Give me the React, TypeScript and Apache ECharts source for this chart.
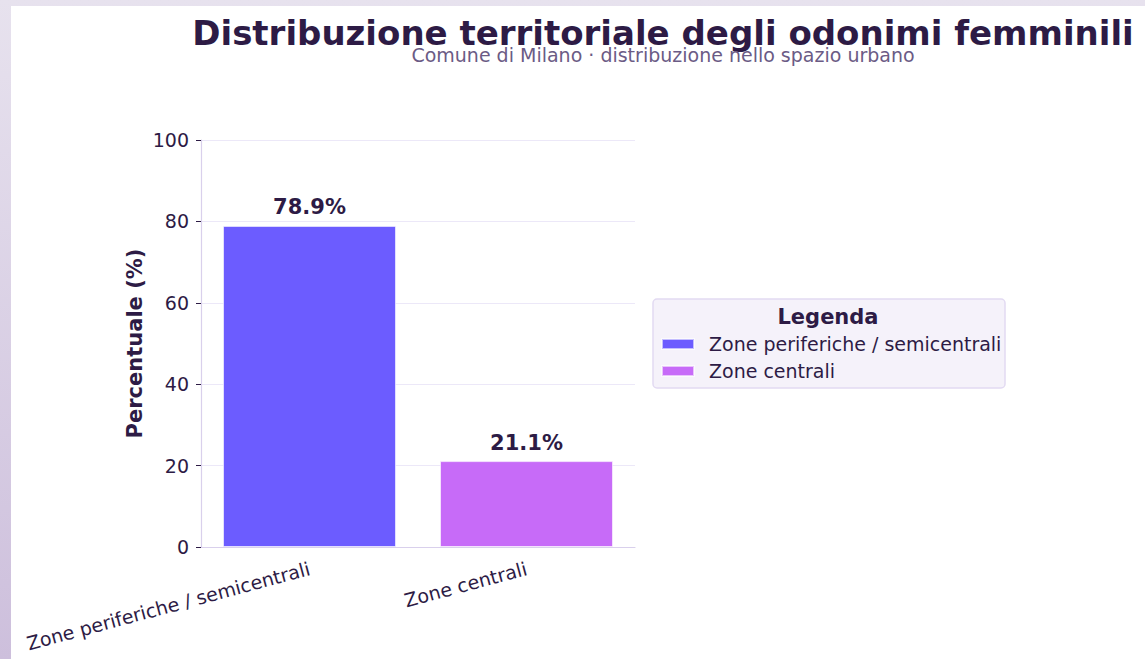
import React, { useEffect, useRef } from "react";
import * as echarts from "echarts";

const categories = ["Zone periferiche / semicentrali", "Zone centrali"];
const percentages = [78.9, 21.1];
const barColors = ["#6c5cff", "#c76bf8"];
const yTicks = { min: 0, max: 100, interval: 20 };

const titleText = "Distribuzione territoriale degli odonimi femminili";
const subtitleText = "Comune di Milano · distribuzione nello spazio urbano";

const FONT = "DejaVu Sans";
const DARK = "#2d1b45";

export default function App() {
  const ref = useRef<HTMLDivElement>(null);
  useEffect(() => {
    if (!ref.current) return;
    const chart = echarts.init(ref.current, undefined, { renderer: "svg" });
    const series = categories.map((name, i) => ({
      name,
      type: "bar",
      stack: "total",
      barWidth: 173,
      data: categories.map((_, j) => (j === i ? percentages[i] : "-")),
      itemStyle: {
        color: barColors[i],
        borderColor: "rgba(255,255,255,0.6)",
        borderWidth: 1,
      },
      label: {
        show: true,
        position: "top",
        distance: 8,
        formatter: (p: any) => `${Number(p.value).toFixed(1)}%`,
        fontFamily: FONT,
        fontWeight: "bold",
        fontSize: 21,
        color: DARK,
      },
    }));
    chart.setOption({
      animation: false,
      textStyle: { fontFamily: FONT },
      graphic: [
        {
          type: "rect",
          z: -10,
          shape: { x: 11, y: 6, width: 1134, height: 653 },
          style: { fill: "#ffffff" },
        },
        {
          type: "text",
          x: 663,
          y: 33,
          style: {
            text: titleText,
            fontFamily: FONT,
            fontWeight: "bold",
            fontSize: 34,
            fill: DARK,
            textAlign: "center",
            textVerticalAlign: "middle",
          },
        },
        {
          type: "text",
          x: 663,
          y: 55,
          style: {
            text: subtitleText,
            fontFamily: FONT,
            fontSize: 19,
            fill: "#6b5b85",
            textAlign: "center",
            textVerticalAlign: "middle",
          },
        },
        {
          type: "rect",
          z: -5,
          shape: { x: 653, y: 299, width: 352, height: 89, r: 4 },
          style: { fill: "#f5f2fa", stroke: "#e2daf2", lineWidth: 1.5 },
        },
        {
          type: "text",
          x: 828,
          y: 317,
          style: {
            text: "Legenda",
            fontFamily: FONT,
            fontWeight: "bold",
            fontSize: 21,
            fill: DARK,
            textAlign: "center",
            textVerticalAlign: "middle",
          },
        },
      ],
      legend: {
        orient: "vertical",
        left: 661,
        top: 333,
        padding: 0,
        itemWidth: 32,
        itemHeight: 10,
        itemGap: 5,
        icon: "rect",
        data: categories,
        textStyle: {
          fontFamily: FONT,
          fontSize: 19,
          lineHeight: 22,
          color: DARK,
          padding: [0, 0, 0, 10],
        },
      },
      grid: { left: 201, right: 510, top: 140, bottom: 112 },
      xAxis: {
        type: "category",
        data: categories,
        axisLine: { lineStyle: { color: "#d9d0ec", width: 1.2 } },
        axisTick: { alignWithLabel: true, length: 5, lineStyle: { color: "#555" } },
        axisLabel: {
          rotate: 15,
          margin: 21,
          fontFamily: FONT,
          fontSize: 19,
          color: DARK,
        },
      },
      yAxis: {
        type: "value",
        min: yTicks.min,
        max: yTicks.max,
        interval: yTicks.interval,
        name: "Percentuale (%)",
        nameLocation: "middle",
        nameGap: 56,
        nameTextStyle: { fontFamily: FONT, fontWeight: "bold", fontSize: 21, color: DARK },
        axisLine: { show: true, lineStyle: { color: "#d9d0ec", width: 1.2 } },
        axisTick: { show: true, length: 5, lineStyle: { color: DARK } },
        axisLabel: { margin: 12, fontFamily: FONT, fontSize: 19, color: DARK },
        splitLine: { lineStyle: { color: "#ece8f8", width: 1 } },
      },
      series,
    });
    return () => chart.dispose();
  }, []);
  return (
    <div
      style={{
        position: "fixed",
        left: 0,
        top: 0,
        width: 1145,
        height: 659,
        background: "linear-gradient(180deg, #e7e2ee 0%, #cdbfdc 100%)",
      }}
    >
      <div ref={ref} style={{ width: 1145, height: 659 }} />
    </div>
  );
}
